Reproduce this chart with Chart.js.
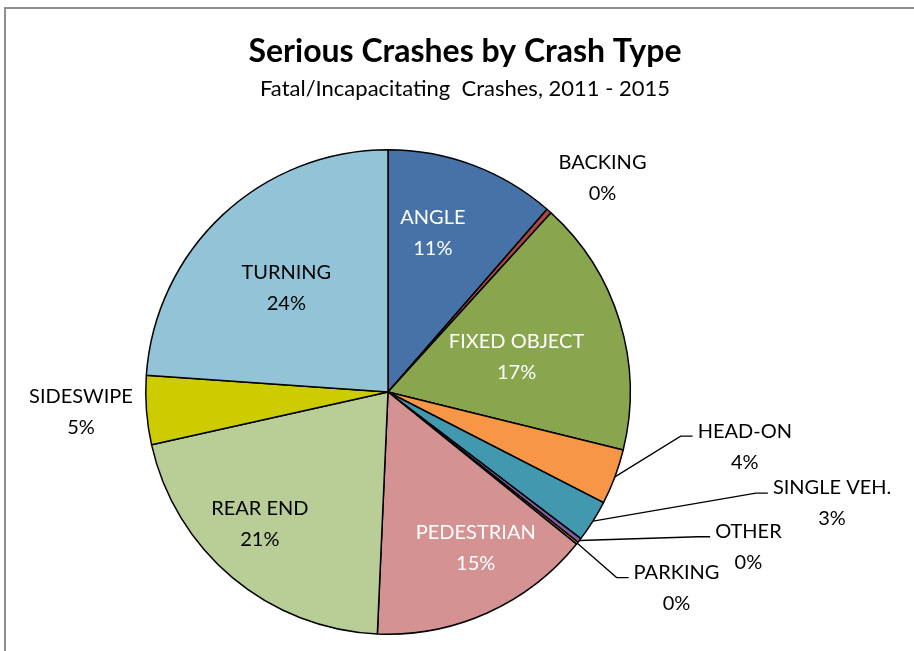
<!DOCTYPE html>
<html>
<head>
<meta charset="utf-8">
<script src="https://cdn.jsdelivr.net/npm/chart.js@4/dist/chart.umd.min.js"></script>
<style>
  html, body { margin: 0; padding: 0; background: #fff; }
  canvas { display: block; }
</style>
</head>
<body>
<canvas id="crash-type-chart" width="914" height="651"></canvas>
<script>
const crashTypes = ['ANGLE', 'BACKING', 'FIXED OBJECT', 'HEAD-ON', 'SINGLE VEH.', 'OTHER', 'PARKING', 'PEDESTRIAN', 'REAR END', 'SIDESWIPE', 'TURNING'];
const crashShares = [11.4, 0.35, 17.1, 3.7, 2.8, 0.3, 0.15, 14.9, 20.8, 4.6, 23.9];
const titleText = 'Serious Crashes by Crash Type';
const subtitleText = 'Fatal/Incapacitating  Crashes, 2011 - 2015';

const sliceColors = ['#4672a8', '#aa4643', '#89a54e', '#f79646', '#4198af', '#7d5fa0', '#db843d', '#d49392', '#b9ce97', '#cccc00', '#93c3d7'];

// label placement: angle (deg, clockwise from top) and distance as part of the radius
const labelPlaces = [
    {angle: 15.8, dist: 0.68, color: '#fff'},
    {angle: 45.1, dist: 1.25, color: '#000'},
    {angle: 74.8, dist: 0.55, color: '#fff'},
    {angle: 98.7, dist: 1.49, color: '#000', leader: true},
    {angle: 104.1, dist: 1.89, color: '#000', leader: true},
    {angle: 113.3, dist: 1.62, color: '#000', leader: true},
    {angle: 124.2, dist: 1.44, color: '#000', leader: true},
    {angle: 150.7, dist: 0.74, color: '#fff'},
    {angle: 224.1, dist: 0.76, color: '#000'},
    {angle: 266.3, dist: 1.27, color: '#000'},
    {angle: 315.6, dist: 0.60, color: '#000'}
];

const labelFont = '20px Lato, "Open Sans", sans-serif';
const lineGap = 31;

const frameAndTitle = {
    id: 'frameAndTitle',
    beforeDraw(chart) {
        const {ctx, width, height} = chart;
        ctx.save();
        ctx.fillStyle = '#fff';
        ctx.fillRect(0, 0, width, height);
        ctx.strokeStyle = '#8e8e8e';
        ctx.lineWidth = 2;
        ctx.beginPath();
        ctx.moveTo(5, height);
        ctx.lineTo(5, 8);
        ctx.lineTo(width, 8);
        ctx.stroke();

        ctx.fillStyle = '#000';
        ctx.textAlign = 'center';
        ctx.textBaseline = 'middle';
        ctx.font = 'bold 32px Lato, "Open Sans", sans-serif';
        ctx.fillText(titleText, 465, 52);
        ctx.font = '22px Lato, "Open Sans", sans-serif';
        ctx.fillText(subtitleText, 465, 89);
        ctx.restore();
    }
};

const pieLabels = {
    id: 'pieLabels',
    afterDatasetsDraw(chart) {
        const {ctx} = chart;
        const meta = chart.getDatasetMeta(0);
        const total = crashShares.reduce((a, b) => a + b, 0);
        ctx.save();
        ctx.font = labelFont;
        ctx.textAlign = 'center';
        ctx.textBaseline = 'middle';
        ctx.strokeStyle = '#000';
        ctx.lineWidth = 1.3;
        meta.data.forEach((arc, i) => {
            const place = labelPlaces[i];
            const a = place.angle * Math.PI / 180 - Math.PI / 2;
            const d = arc.outerRadius * place.dist;
            const x = arc.x + Math.cos(a) * d;
            const y = arc.y + Math.sin(a) * d;
            const pct = Math.round(crashShares[i] / total * 100) + '%';

            ctx.fillStyle = place.color;
            ctx.fillText(crashTypes[i], x, y - lineGap / 2);
            ctx.fillText(pct, x, y + lineGap / 2);

            if (place.leader) {
                const w = ctx.measureText(crashTypes[i]).width;
                const left = x - w / 2;
                const ly = y - lineGap / 2 + 5;
                const mid = (arc.startAngle + arc.endAngle) / 2;
                const sx = arc.x + Math.cos(mid) * arc.outerRadius;
                const sy = arc.y + Math.sin(mid) * arc.outerRadius;
                ctx.beginPath();
                ctx.moveTo(sx, sy);
                ctx.lineTo(left - 17, ly);
                ctx.lineTo(left - 5, ly);
                ctx.stroke();
            }
        });
        ctx.restore();
    }
};

new Chart(document.getElementById('crash-type-chart'), {
    type: 'pie',
    data: {
        labels: crashTypes,
        datasets: [{
            data: crashShares,
            backgroundColor: sliceColors,
            borderColor: '#000',
            borderWidth: 1.5
        }]
    },
    options: {
        responsive: false,
        animation: false,
        layout: {
            padding: {left: 145, right: 283, top: 149, bottom: 16}
        },
        plugins: {
            legend: {display: false},
            tooltip: {enabled: false}
        }
    },
    plugins: [frameAndTitle, pieLabels]
});
</script>
</body>
</html>
